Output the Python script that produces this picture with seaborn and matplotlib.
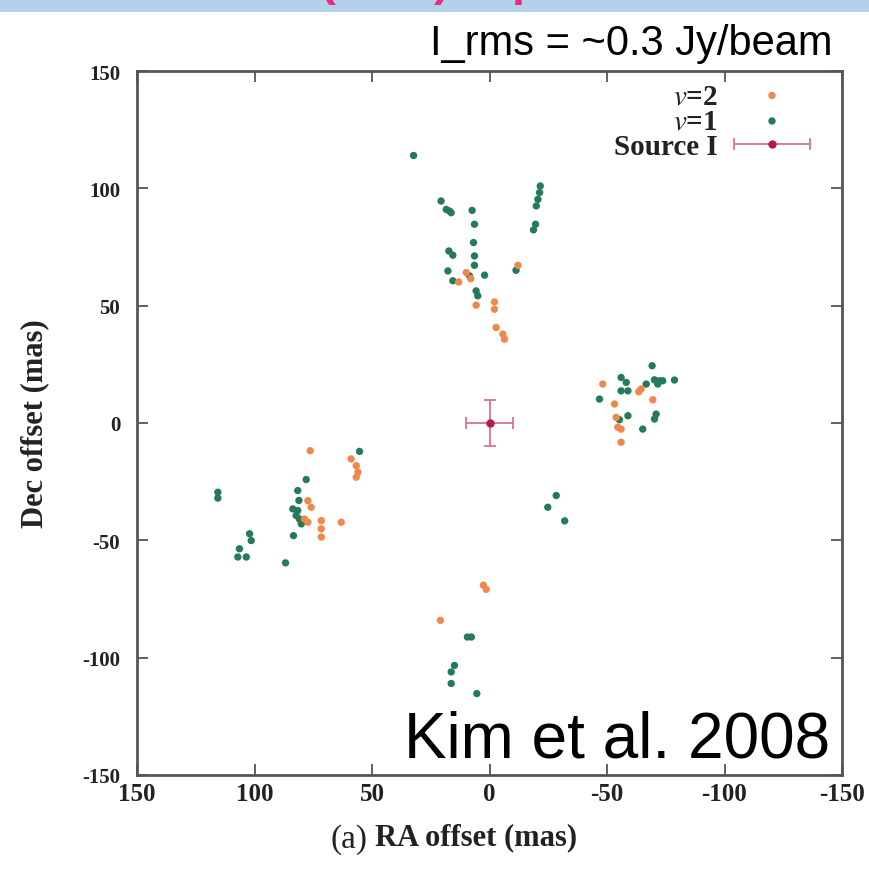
import numpy as np
import pandas as pd
import matplotlib
matplotlib.use("Agg")
import matplotlib.pyplot as plt
from matplotlib.legend_handler import HandlerErrorbar
import seaborn as sns

# maser spot offsets (mas)
v1_ra = [32.3, 20.6, 18.4, 17.0, 16.3, 7.4, 6.4, 6.8, 6.4, 6.4, 17.3, 15.6, 17.7, 15.6, 8.5, 2.1, 5.7, 5.0,
         -21.6, -21.3, -20.6, -19.9, -19.6, -18.7, -11.3,
         -69.2, -70.2, -72.3, -73.7, -71.6, -78.7, -66.7, -56.0, -58.2, -56.0, -58.9, -46.8, -70.9, -70.2,
         -58.9, -55.3, -65.2,
         55.3, 78.0, 115.6, 115.6, 81.6, 81.1, 83.7, 81.6, 82.3, 80.9, 80.1, 83.4, 102.1, 101.4, 106.4,
         107.1, 103.5, 86.8,
         -28.4, -24.8, -32.0, 9.4, 7.7, 14.9, 16.3, 16.3, 5.4]
v1_dec = [114.0, 94.6, 91.0, 90.3, 89.6, 90.6, 84.7, 76.9, 71.2, 67.2, 73.3, 71.5, 64.8, 60.6, 62.7, 63.0, 56.3, 54.2,
          101.0, 98.2, 95.3, 92.5, 84.7, 82.3, 65.1,
          24.4, 18.4, 18.0, 18.0, 16.6, 18.3, 16.6, 19.4, 17.3, 13.7, 13.7, 10.2, 3.8, 1.7,
          3.1, 1.4, -2.6,
          -12.1, -24.1, -29.5, -32.0, -28.8, -33.0, -36.6, -37.3, -39.4, -40.9, -43.0, -48.0, -47.2, -50.1, -53.6,
          -57.1, -57.1, -59.6,
          -30.9, -35.9, -41.7, -91.2, -91.2, -103.3, -106.1, -111.0, -115.3]

v2_ra = [13.1, 9.9, 8.0, 5.7, -2.1, -2.1, -2.8, -5.7, -6.4, -12.1,
         -64.5, -63.5, -48.2, -53.2, -69.5, -53.9, -54.6, -56.0, -56.0,
         76.3, 58.9, 56.7, 56.0, 56.7, 77.3, 75.9, 78.7, 77.3, 71.6, 71.6, 71.6, 63.1,
         2.6, 1.4, 20.9]
v2_dec = [60.1, 64.1, 61.5, 50.2, 51.6, 48.5, 40.7, 37.9, 35.7, 67.2,
          14.5, 13.3, 16.6, 8.1, 9.9, 2.4, -1.8, -2.6, -8.2,
          -11.8, -15.3, -18.2, -21.0, -23.1, -33.1, -35.9, -40.9, -42.3, -41.6, -45.1, -48.6, -42.3,
          -69.1, -70.9, -84.1]

src_ra, src_dec = [0.0], [0.0]
src_err_ra, src_err_dec = [10.0], [10.0]

sns.set_style("white")
plt.rcParams["font.family"] = ["Liberation Serif", "DejaVu Serif"]
plt.rcParams["mathtext.fontset"] = "stix"

c_v2 = "#ef884a"
c_v1 = "#257a5a"
c_src = "#b8164f"

fig = plt.figure(figsize=(8.69, 8.70), dpi=100)
fig.patch.set_facecolor("white")

# strip of the slide header at the very top (title cut off)
band = fig.add_axes([0, 1 - 13 / 870, 1, 13 / 870])
band.set_facecolor("#b3d1ea")
band.set_xticks([]); band.set_yticks([])
for s in band.spines.values():
    s.set_visible(False)
band.set_xlim(0, 869); band.set_ylim(0, 1)
for ch, xp in [("(", 320), (")", 434), ("p", 512)]:
    band.text(xp, 1.35, ch, color="#e62d7d", fontsize=34, fontweight="bold",
              family=["Liberation Sans", "DejaVu Sans"], va="baseline", ha="left", clip_on=True)

ax = fig.add_axes([137 / 869, 94 / 870, 705 / 869, 704 / 870])

d1 = pd.DataFrame({"ra": v1_ra, "dec": v1_dec})
d2 = pd.DataFrame({"ra": v2_ra, "dec": v2_dec})
sns.scatterplot(data=d2, x="ra", y="dec", color=c_v2, s=28, edgecolor="none", ax=ax, label="$v$=2", zorder=3)
sns.scatterplot(data=d1, x="ra", y="dec", color=c_v1, s=28, edgecolor="none", ax=ax, label="$v$=1", zorder=2)
ax.errorbar(src_ra, src_dec, xerr=src_err_ra, yerr=src_err_dec, fmt="o", color=c_src, ms=5,
            ecolor="#d9709a", elinewidth=1.3, capsize=4, capthick=1.3, label="Source I", zorder=4)

ax.set_xlim(150, -150)
ax.set_ylim(-150, 150)
ticks = [150, 100, 50, 0, -50, -100, -150]
ax.set_xticks(ticks)
ax.set_yticks(ticks)
ax.set_xticklabels([str(t) for t in ticks], fontweight="bold", fontsize=18, color="#222222")
ax.set_yticklabels([str(t) for t in ticks], fontweight="bold", fontsize=15, color="#222222")
ax.tick_params(direction="in", length=8, width=1.3, color="#555555", top=True, right=True,
               bottom=True, left=True, labeltop=False, labelright=False)
ax.tick_params(axis="x", pad=5)
ax.tick_params(axis="y", pad=12)
for s in ax.spines.values():
    s.set_color("#555555")
    s.set_linewidth(2)
ax.set_xlabel("")
ax.set_ylabel("")

h, l = ax.get_legend_handles_labels()
leg = ax.legend(h, l, loc="upper right", bbox_to_anchor=(1.0, 1.0 + 21 / 704), frameon=False,
                markerfirst=False, handlelength=2.6, labelspacing=-0.05, borderaxespad=0.8,
                borderpad=0.3, handletextpad=0.55, prop={"weight": "bold", "size": 21},
                handler_map={type(h[2]): HandlerErrorbar(xerr_size=1.3, yerr_size=0.0)})
for t in leg.get_texts():
    t.set_color("#222222")

fig.text(35 / 869, 1 - 424 / 870, "Dec offset (mas)", rotation=90, ha="center", va="center",
         fontsize=22, fontweight="bold", color="#222222")
fig.text(368 / 869, 1 - 840 / 870, "(a)", ha="right", va="center", fontsize=24, color="#222222")
fig.text(375 / 869, 1 - 838 / 870, "RA offset (mas)", ha="left", va="center", fontsize=22,
         fontweight="bold", color="#222222")

sans = ["Liberation Sans", "DejaVu Sans"]
fig.text(832 / 869, 1 - 44 / 870, "I_rms = ~0.3 Jy/beam", ha="right", va="center", fontsize=30,
         family=sans, color="black")
fig.text(830 / 869, 1 - 741 / 870, "Kim et al. 2008", ha="right", va="center", fontsize=46,
         family=sans, color="black")

fig.savefig("out.png", dpi=100, facecolor="white")
